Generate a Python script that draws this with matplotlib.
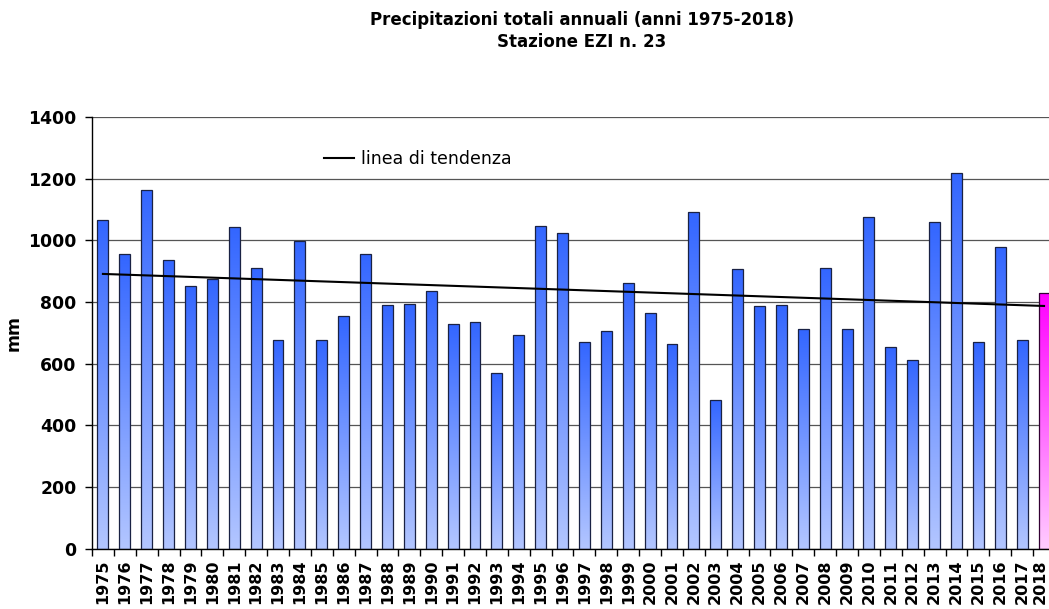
import numpy as np
import matplotlib
matplotlib.use("Agg")
import matplotlib.pyplot as plt
import matplotlib.transforms as mtransforms
from matplotlib.colors import LinearSegmentedColormap

# Data
years = list(range(1975, 2019))
rain_mm = [
    1065, 956, 1163, 935, 852, 875, 1043, 910, 678, 998,
    675, 756, 956, 790, 794, 835, 729, 736, 568, 692,
    1045, 1025, 670, 706, 861, 764, 664, 1093, 482, 907,
    787, 790, 712, 911, 712, 1077, 654, 612, 1059, 1218,
    670, 977, 675, 830,
]
trend_ends = [891, 787]  # trend line at 1975 and 2018
yticks = [0, 200, 400, 600, 800, 1000, 1200, 1400]

# wide glyphs, closer to the stretched Arial of the original
plt.rcParams["font.family"] = ["DejaVu Sans"]

fig = plt.figure(figsize=(10.49, 6.09), dpi=100)
ax = fig.add_axes([0.0877, 0.0993, 0.918, 0.7085])

x = np.arange(len(years))
width = 0.5

# Gradient colormaps (top dark -> bottom light)
blue_cm = LinearSegmentedColormap.from_list("b", ["#b3c6ff", "#3366ff"])
pink_cm = LinearSegmentedColormap.from_list("p", ["#ffccff", "#ff00ff"])
grad = np.linspace(0, 1, 256).reshape(-1, 1)

for i, v in enumerate(rain_mm):
    cm = pink_cm if years[i] == 2018 else blue_cm
    ec = "#330033" if years[i] == 2018 else "#1a2244"
    ax.imshow(grad, cmap=cm, origin="lower", aspect="auto",
              extent=(x[i] - width / 2, x[i] + width / 2, 0, v), zorder=2)
    ax.bar(x[i], v, width=width, facecolor="none", edgecolor=ec,
           linewidth=0.9, zorder=3)

# Trend line
ax.plot([x[0], x[-1]], trend_ends, color="black", lw=1.5, zorder=4,
        label="linea di tendenza")

ax.set_xlim(-0.5, len(years) - 0.5)
ax.set_ylim(0, 1400)
ax.set_yticks(yticks)
ax.set_yticklabels([str(t) for t in yticks], fontsize=12.4, fontweight="bold")
ax.yaxis.grid(True, color="#555555", lw=0.9, zorder=1)
ax.set_axisbelow(True)

ax.set_xticks(x)
ax.set_xticklabels([str(y) for y in years], rotation=90, fontsize=11.5,
                   fontweight="bold", va="top")
ax.set_xticks(np.arange(-0.5, len(years), 1), minor=True)
ax.tick_params(axis="x", which="major", length=0, pad=8)
ax.tick_params(axis="x", which="minor", length=5, width=1, direction="out")
ax.tick_params(axis="y", length=5, width=1, direction="out", pad=6)

# last label sits on the figure edge, nudge it in a little
last = ax.get_xticklabels()[-1]
last.set_transform(last.get_transform() +
                   mtransforms.ScaledTranslation(-3 / 72, 0, fig.dpi_scale_trans))

for s in ["top", "right"]:
    ax.spines[s].set_visible(False)
ax.spines["left"].set_linewidth(1)
ax.spines["bottom"].set_linewidth(1)

ax.set_ylabel("mm", fontsize=12.4, fontweight="bold", labelpad=4)

ax.legend(loc="upper left", bbox_to_anchor=(0.225, 0.96), frameon=False,
          fontsize=12.5, handlelength=1.7, handletextpad=0.4)

fig.text(0.5544, 0.982, "Precipitazioni totali annuali (anni 1975-2018)\nStazione EZI n. 23",
         ha="center", va="top", fontsize=12, fontweight="bold", linespacing=1.3)

fig.savefig("out.png", dpi=100)
